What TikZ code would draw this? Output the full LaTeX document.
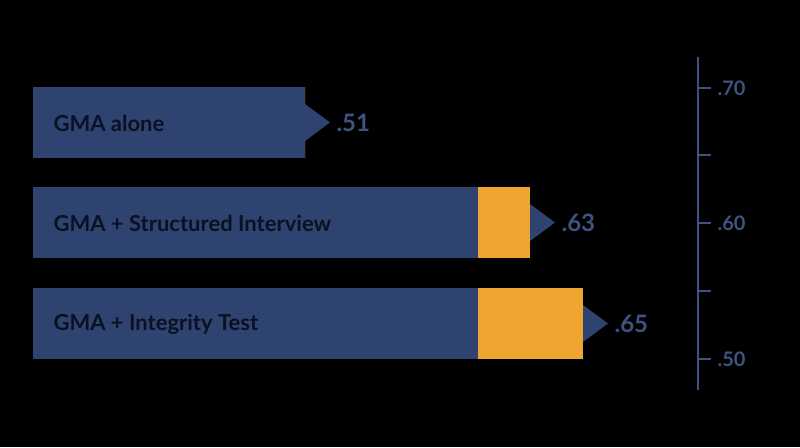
\documentclass[tikz,border=0pt]{standalone}
\usepackage{fontspec}
\setmainfont{Lato}
\definecolor{BarNavy}{HTML}{2E4370}
\definecolor{BarGold}{HTML}{EEA630}
\definecolor{AxisSlate}{HTML}{3E5380}
\definecolor{LabelInk}{HTML}{0B1122}
\tikzset{
    bar label/.style={anchor=west, text=LabelInk, font=\bfseries\fontsize{22}{26}\selectfont},
    value label/.style={anchor=west, text=AxisSlate, font=\bfseries\fontsize{24}{28}\selectfont},
    axis label/.style={anchor=west, text=AxisSlate, font=\bfseries\fontsize{20}{24}\selectfont},
}
\begin{document}
\begin{tikzpicture}[x=1pt, y=-1pt]

\fill[black] (0,0) rectangle (800,447);
\useasboundingbox (0,0) rectangle (800,447);

% Balken: Anfang, Ende Navy, Ende Gold, Oberkante
\foreach \navyEnd/\goldEnd/\top/\val/\txt [count=\i] in {
    305/305/87/.51/GMA alone,
    478/530/187/.63/GMA + Structured Interview,
    478/583/288/.65/GMA + Integrity Test} {
  \fill[BarNavy] (33,\top) rectangle (\navyEnd,\top+71);
  \fill[BarGold] (\navyEnd,\top) rectangle (\goldEnd,\top+71);
  \fill[BarNavy] (\goldEnd,\top+17) -- (\goldEnd+25,\top+35.5) -- (\goldEnd,\top+54) -- cycle;
  \node[bar label] (bar\i) at (50,\top+36) {\txt};
  \node[value label] (val\i) at (\goldEnd+28,\top+36) {\val};
}

% Achse
\coordinate (axTop) at (698,57);
\coordinate (axBot) at (698,390);
\draw[AxisSlate, line width=2.5pt] (axTop) -- (axBot);
\foreach \y in {88,155,223,291,359}
  \draw[AxisSlate, line width=2.5pt] (698,\y) -- (711,\y);
\node[axis label] (ax70) at (714,88) {.70};
\node[axis label] (ax60) at (714,223) {.60};
\node[axis label] (ax50) at (714,359) {.50};
\end{tikzpicture}
\end{document}
